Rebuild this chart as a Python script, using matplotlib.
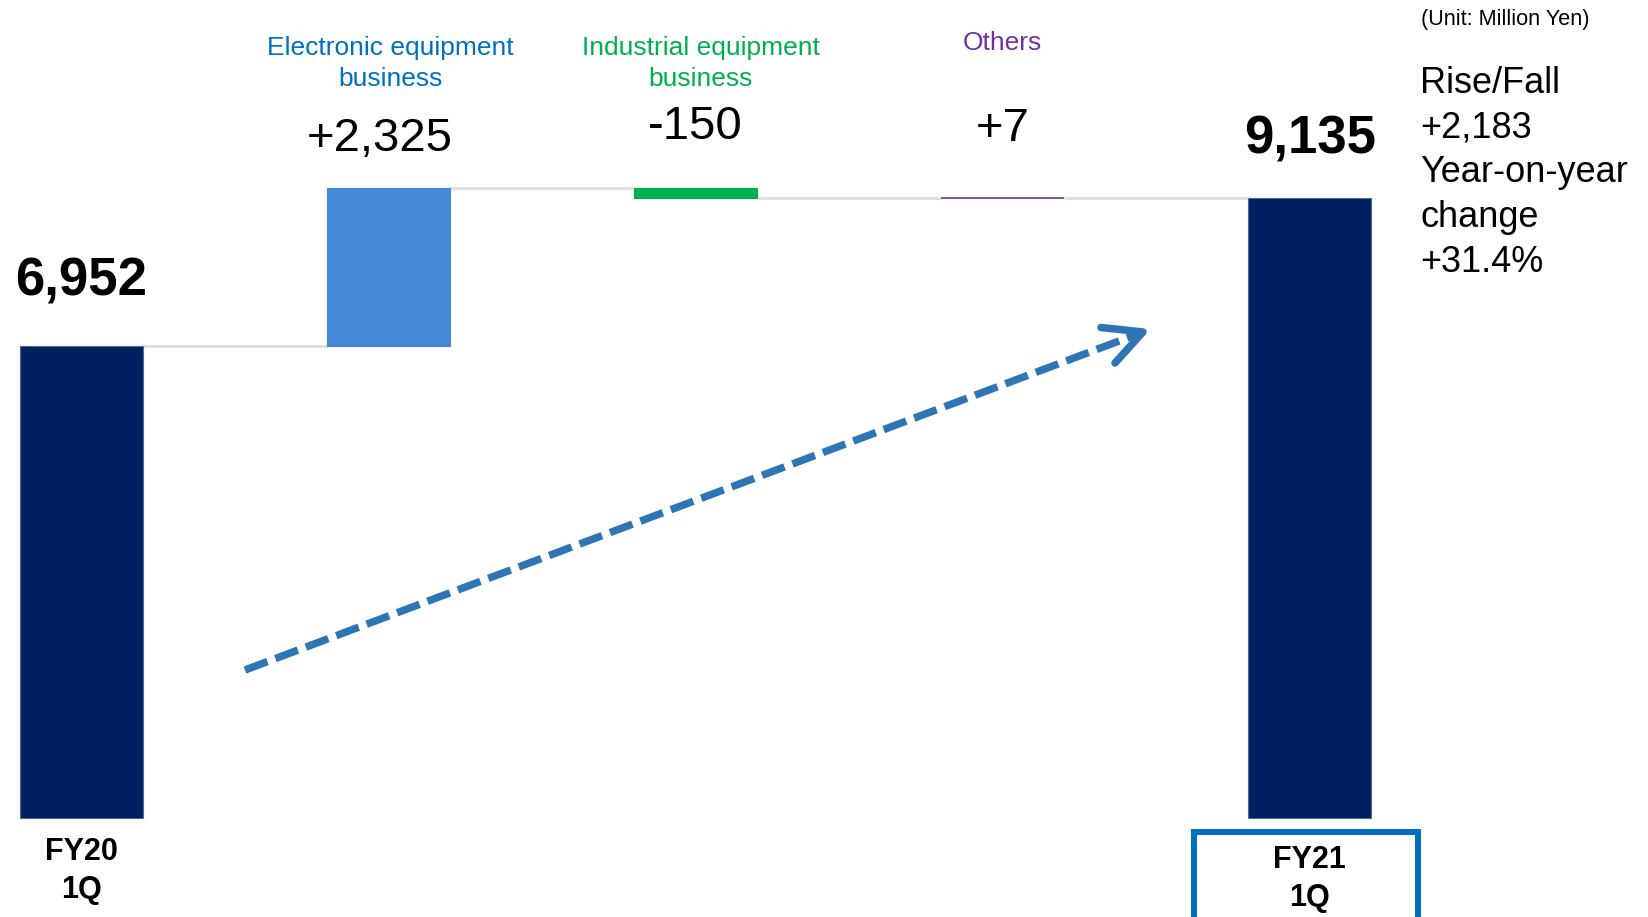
import matplotlib
matplotlib.use("Agg")
import matplotlib.pyplot as plt
from matplotlib.lines import Line2D
from matplotlib.patches import Rectangle
from matplotlib.transforms import blended_transform_factory

# ---------------- data ----------------
categories = ["FY20\n1Q", "Electronic equipment\nbusiness",
              "Industrial equipment\nbusiness", "Others", "FY21\n1Q"]
start_value = 6952
changes = [2325, -150, 7]
end_value = 9135
bar_colors = ["#002060", "#4589D6", "#00B050", "#7030A0", "#002060"]
label_colors = ["#000000", "#0070C0", "#00B050", "#7030A0", "#000000"]
rise_fall = "+2,183"
yoy_change = "+31.4%"
unit_text = "(Unit: Million Yen)"

# ---------------- figure ----------------
W, H, DPI = 1648, 917, 100
plt.rcParams["font.family"] = ["Liberation Sans", "DejaVu Sans"]
fig = plt.figure(figsize=(W / DPI, H / DPI), dpi=DPI)
fig.patch.set_facecolor("white")
ax = fig.add_axes([0, 0, 1, 1])
ax.set_xlim(-0.2654, 5.101)
ax.set_ylim(-1457, 12044)
ax.axis("off")


def fx(px):
    return px / W


def fy(py):
    return 1 - py / H


bt = blended_transform_factory(ax.transData, fig.transFigure)

# ---------------- waterfall bars ----------------
xs = list(range(len(categories)))
bottoms, heights, levels = [0], [start_value], [start_value]
cum = start_value
for d in changes:
    if d >= 0:
        bottoms.append(cum)
        heights.append(d)
    else:
        bottoms.append(cum + d)
        heights.append(-d)
    cum += d
    levels.append(cum)
bottoms.append(0)
heights.append(end_value)

width = 0.4
for i in xs:
    ec = "#4A6AA0" if bar_colors[i] == "#002060" else bar_colors[i]
    lw = 0.8 if i != 3 else 1.2
    ax.bar(xs[i], heights[i], bottom=bottoms[i], width=width,
           color=bar_colors[i], edgecolor=ec, linewidth=lw, zorder=3)

# connectors
for i, lev in enumerate(levels):
    ax.plot([xs[i] + width / 2, xs[i + 1] - width / 2], [lev, lev],
            color="#E0E0E0", lw=2.2, zorder=2, solid_capstyle="butt")

# ---------------- value labels ----------------
value_labels = [f"{start_value:,}"] + [f"{d:+,}" for d in changes] + [f"{end_value:,}"]
value_baselines = [296, 151, 139, 141, 154]
value_dx = [0, -0.028, 0, 0, 0]
for i in xs:
    bold = i in (0, len(xs) - 1)
    ax.text(xs[i] + value_dx[i], fy(value_baselines[i]), value_labels[i],
            transform=bt, ha="center", va="baseline",
            fontsize=38 if bold else 34,
            fontweight="bold" if bold else "normal", color="black")

# ---------------- category labels ----------------
cat_dx = {1: 0.005, 2: 0.017, 3: 0.0}
for i in (1, 2, 3):
    lines = categories[i].split("\n")
    base = 54.5 if len(lines) > 1 else 49.5
    for k, line in enumerate(lines):
        ax.text(xs[i] + cat_dx[i], fy(base + 31.5 * k), line, transform=bt,
                ha="center", va="baseline", fontsize=19, color=label_colors[i])

# x labels for totals
for i, base in ((0, 860), (4, 868)):
    for k, line in enumerate(categories[i].split("\n")):
        ax.text(xs[i], fy(base + 38 * k), line, transform=bt,
                ha="center", va="baseline", fontsize=22, fontweight="bold",
                color="black")

# box around FY21 label
box = Rectangle((fx(1193.5), fy(940)), fx(1418) - fx(1193.5), fy(832) - fy(940),
                transform=fig.transFigure, fill=False, edgecolor="#0070C0",
                linewidth=4.3, clip_on=False, zorder=5)
fig.patches.append(box)

# ---------------- right side notes ----------------
fig.text(fx(1421), fy(25), unit_text, ha="left", va="baseline",
         fontsize=15.6, color="black")
notes = ["Rise/Fall", rise_fall, "Year-on-year", "change", yoy_change]
for k, line in enumerate(notes):
    fig.text(fx(1420), fy(93 + 44.7 * k), line, ha="left", va="baseline",
             fontsize=26, color="black")

# ---------------- dashed arrow ----------------
arrow_color = "#2E75B6"
lw_arrow = 5.4
p0 = (245, 670)
tip = (1143, 332)
dash = Line2D([fx(p0[0]), fx(tip[0])], [fy(p0[1]), fy(tip[1])],
              transform=fig.transFigure, color=arrow_color, lw=lw_arrow,
              linestyle=(0, (24 / 7.5, 8.5 / 7.5)), dash_capstyle="butt", zorder=4)
fig.lines.append(dash)
head = Line2D([fx(1101), fx(tip[0]), fx(1115)], [fy(327.5), fy(tip[1]), fy(363)],
              transform=fig.transFigure, color=arrow_color, lw=lw_arrow,
              solid_capstyle="round", solid_joinstyle="round", zorder=4)
fig.lines.append(head)

fig.savefig("out.png", dpi=DPI, facecolor="white")
